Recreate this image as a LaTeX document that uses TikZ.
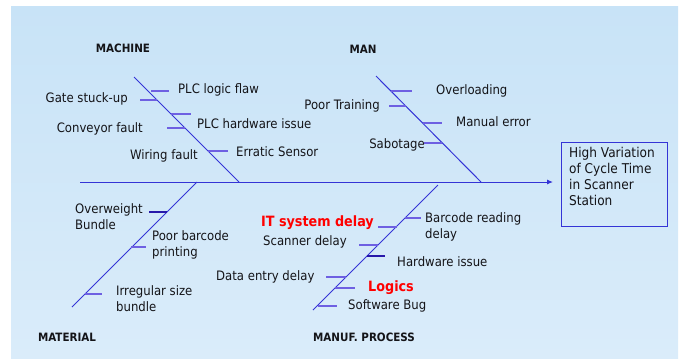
\documentclass[tikz,border=0pt]{standalone}
\usepackage{fontspec}
\setmainfont{DejaVu Sans Condensed}
\usetikzlibrary{arrows.meta}
\definecolor{bone}{RGB}{52,52,214}
\definecolor{tick}{RGB}{110,96,226}
\definecolor{tickdark}{RGB}{40,24,170}
\definecolor{ink}{RGB}{20,20,24}
\definecolor{bgtop}{RGB}{200,227,247}
\definecolor{bgmid}{RGB}{234,245,253}
\definecolor{bgbot}{RGB}{218,236,250}
\tikzset{
  lbl/.style={font=\fontsize{13}{16}\selectfont, text=ink, inner sep=0pt, anchor=west},
  lbltwo/.style={font=\fontsize{13}{16}\selectfont, text=ink, inner sep=0pt, align=left, anchor=north west},
  hot/.style={font=\fontsize{14.2}{17}\selectfont\bfseries, text=red, inner sep=0pt, anchor=west},
  cat/.style={font=\fontsize{11.5}{13}\selectfont\bfseries, text=ink, inner sep=0pt},
  bonestyle/.style={draw=bone, line width=1pt},
  tickstyle/.style={draw=tick, line width=1.1pt},
  tickdk/.style={draw=tickdark, line width=1.3pt},
}
\begin{document}
\begin{tikzpicture}[x=1pt,y=-1pt]
\useasboundingbox (0,0) rectangle (682,360);
% slide background
\shade[top color=bgtop, middle color=bgmid, bottom color=bgbot] (11,6) rectangle (678,358);

% effect box
\node[draw=bone, line width=1.2pt, minimum width=106pt, minimum height=84pt, inner sep=0pt, anchor=north west] (effect) at (561,142) {};
\node[font=\fontsize{13.5}{16}\selectfont, text=ink, align=left, inner sep=0pt, anchor=north west] (effecttxt) at (569,147)
  {High Variation\\of Cycle Time\\in Scanner\\Station};

% spine
\coordinate (tail) at (80,182);
\draw[bonestyle, -{Latex[length=6pt,width=5pt]}, shorten >=8pt] (tail) -- (effect.west |- tail);

% main bones
\coordinate (mcTop) at (134,77);  \coordinate (mcEnd) at (239,182);
\coordinate (mnTop) at (376,76);  \coordinate (mnEnd) at (481,182);
\coordinate (mtTop) at (197,182); \coordinate (mtEnd) at (72,307);
\coordinate (mpTop) at (438,185); \coordinate (mpEnd) at (313,310);
\draw[bonestyle] (mcTop) -- (mcEnd);
\draw[bonestyle] (mnTop) -- (mnEnd);
\draw[bonestyle] (mtTop) -- (mtEnd);
\draw[bonestyle] (mpTop) -- (mpEnd);

% category labels
\node[cat] (machine) at (123,48) {MACHINE};
\node[cat] (man) at (363,49) {MAN};
\node[cat] (material) at (67,337) {MATERIAL};
\node[cat] (process) at (364,337) {MANUF. PROCESS};

% MACHINE causes
\coordinate (a1) at (151,91);  \coordinate (a1e) at (169,91);
\coordinate (a2) at (157,100); \coordinate (a2e) at (140,100);
\coordinate (a3) at (171,114); \coordinate (a3e) at (191,114);
\coordinate (a4) at (185,128); \coordinate (a4e) at (167,128);
\coordinate (a5) at (208,151); \coordinate (a5e) at (228,151);
\draw[tickstyle] (a1) -- (a1e);
\draw[tickstyle] (a2) -- (a2e);
\draw[tickstyle] (a3) -- (a3e);
\draw[tickstyle] (a4) -- (a4e);
\draw[tickstyle] (a5) -- (a5e);
\node[lbl] (c1) at (178,90) {PLC logic flaw};
\node[lbl, anchor=east] (c2) at (128,99) {Gate stuck-up};
\node[lbl] (c3) at (197,124) {PLC hardware issue};
\node[lbl, anchor=east] (c4) at (143,129) {Conveyor fault};
\node[lbl, anchor=east] (c5) at (198,156) {Wiring fault};
\node[lbl] (c6) at (236,152) {Erratic Sensor};

% MAN causes
\coordinate (b1) at (391,91);  \coordinate (b1e) at (412,91);
\coordinate (b2) at (406,106); \coordinate (b2e) at (389,106);
\coordinate (b3) at (423,123); \coordinate (b3e) at (442,123);
\coordinate (b4) at (442,143); \coordinate (b4e) at (424,143);
\draw[tickstyle] (b1) -- (b1e);
\draw[tickstyle] (b2) -- (b2e);
\draw[tickstyle] (b3) -- (b3e);
\draw[tickstyle] (b4) -- (b4e);
\node[lbl] (d1) at (436,91) {Overloading};
\node[lbl, anchor=east] (d2) at (380,106) {Poor Training};
\node[lbl] (d3) at (456,122) {Manual error};
\node[lbl, anchor=east] (d4) at (425,145) {Sabotage};

% MATERIAL causes
\coordinate (e1) at (167,212); \coordinate (e1e) at (149,212);
\coordinate (e2) at (131,247); \coordinate (e2e) at (146,247);
\coordinate (e3) at (85,294);  \coordinate (e3e) at (102,294);
\draw[tickdk] (e1) -- (e1e);
\draw[tickstyle] (e2) -- (e2e);
\draw[tickstyle] (e3) -- (e3e);
\node[lbltwo] (f1) at (75,203) {Overweight\\Bundle};
\node[lbltwo] (f2) at (152,230) {Poor barcode\\printing};
\node[lbltwo] (f3) at (116,285) {Irregular size\\bundle};

% MANUF. PROCESS causes
\coordinate (g1) at (405,218); \coordinate (g1e) at (421,218);
\coordinate (g2) at (397,227); \coordinate (g2e) at (378,227);
\coordinate (g3) at (378,245); \coordinate (g3e) at (359,245);
\coordinate (g4) at (367,256); \coordinate (g4e) at (385,256);
\coordinate (g5) at (346,277); \coordinate (g5e) at (326,277);
\coordinate (g6) at (335,288); \coordinate (g6e) at (355,288);
\coordinate (g7) at (318,306); \coordinate (g7e) at (337,306);
\draw[tickstyle] (g1) -- (g1e);
\draw[tickstyle] (g2) -- (g2e);
\draw[tickstyle] (g3) -- (g3e);
\draw[tickdk] (g4) -- (g4e);
\draw[tickstyle] (g5) -- (g5e);
\draw[tickstyle] (g6) -- (g6e);
\draw[tickstyle] (g7) -- (g7e);
\node[lbltwo] (h1) at (425,212) {Barcode reading\\delay};
\node[hot, anchor=east] (h2) at (374,223) {IT system delay};
\node[lbl] (h3) at (263,242) {Scanner delay};
\node[lbl] (h4) at (397,262) {Hardware issue};
\node[lbl] (h5) at (216,277) {Data entry delay};
\node[hot] (h6) at (368,288) {Logics};
\node[lbl] (h7) at (348,306) {Software Bug};
\end{tikzpicture}
\end{document}
